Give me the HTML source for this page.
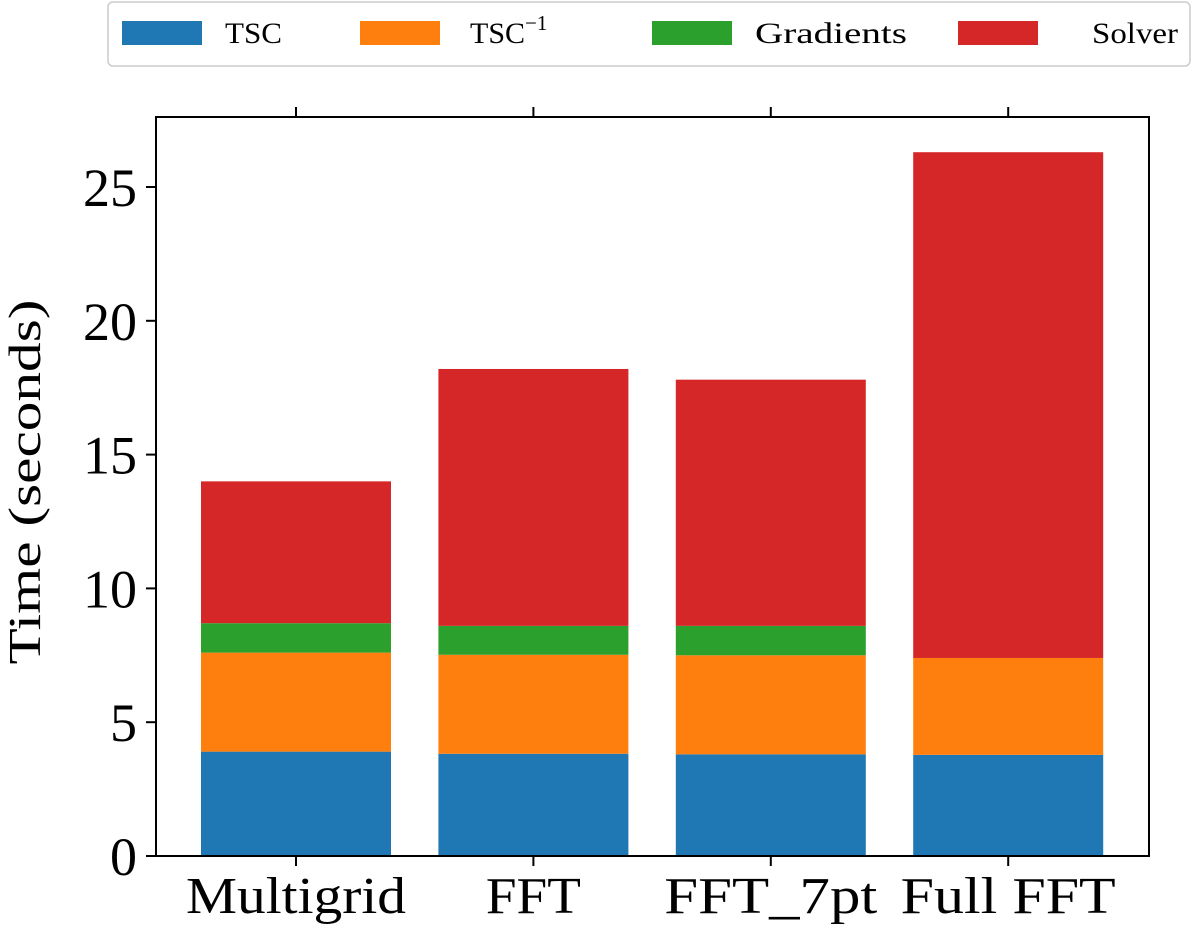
<!DOCTYPE html>
<html><head><meta charset="utf-8"><style>
body{margin:0;background:#fff;}
svg text{font-family:"Liberation Serif",serif;fill:#000;}
</style></head><body>
<svg id="chart" width="1200" height="929" xmlns="http://www.w3.org/2000/svg">
<g id="bars"></g>
<rect x="156" y="117" width="993" height="739" fill="none" stroke="#000" stroke-width="2"/>
<g id="axes"></g>
<text transform="translate(40,482) rotate(-90)" text-anchor="middle" font-size="46" textLength="365" lengthAdjust="spacingAndGlyphs">Time (seconds)</text>
<g>
<rect x="108" y="2" width="1082" height="64" rx="5" fill="#fff" stroke="#ccc" stroke-width="1.5"/>
<g><rect x="122" y="21" width="80" height="24" fill="#1f77b4"/><text x="225" y="43" font-size="30" textLength="57" lengthAdjust="spacingAndGlyphs">TSC</text></g>
<g><rect x="360" y="21" width="80" height="24" fill="#ff7f0e"/><text x="470" y="43" font-size="30">TSC<tspan dy="-13" font-size="21">−1</tspan></text></g>
<g><rect x="652" y="21" width="80" height="24" fill="#2ca02c"/><text x="755" y="43" font-size="30" textLength="152" lengthAdjust="spacingAndGlyphs">Gradients</text></g>
<g><rect x="958" y="21" width="80" height="24" fill="#d62728"/><text x="1092" y="43" font-size="30" textLength="86" lengthAdjust="spacingAndGlyphs">Solver</text></g>
</g>
</svg>
<script>
const categories=["Multigrid","FFT","FFT_7pt","Full FFT"];
const labelWidths=[220,95,213,215];
const tsc=[3.9,3.82,3.8,3.78];
const tscInv=[3.7,3.7,3.7,3.62];
const gradients=[1.1,1.08,1.1,0];
const solver=[5.3,9.6,9.2,18.9];
const yTicks=[0,5,10,15,20,25];
const seriesList=[["tsc",tsc,"#1f77b4"],["tsc-inverse",tscInv,"#ff7f0e"],["gradients",gradients,"#2ca02c"],["solver",solver,"#d62728"]];
const NS="http://www.w3.org/2000/svg";
const y=v=>856-v*26.76;
const xc=i=>296+i*237.4;
const bw=190;
const bars=document.getElementById('bars');
const axes=document.getElementById('axes');
categories.forEach((c,i)=>{
  let base=0;
  seriesList.forEach(([n,arr,col])=>{
    const v=arr[i];
    if(v>0){
      const r=document.createElementNS(NS,'rect');
      r.setAttribute('x',xc(i)-bw/2);r.setAttribute('width',bw);
      r.setAttribute('y',y(base+v));r.setAttribute('height',y(base)-y(base+v));
      r.setAttribute('fill',col);
      
      
      bars.appendChild(r);
    }
    base+=v;
  });
  [[856,866],[117,107]].forEach(([a,b])=>{
    const l=document.createElementNS(NS,'line');
    l.setAttribute('x1',xc(i));l.setAttribute('x2',xc(i));l.setAttribute('y1',a);l.setAttribute('y2',b);
    l.setAttribute('stroke','#000');l.setAttribute('stroke-width','2');
    
    
    axes.appendChild(l);
  });
  const t=document.createElementNS(NS,'text');
  t.setAttribute('x',xc(i));t.setAttribute('y',913);t.setAttribute('text-anchor','middle');t.setAttribute('font-size','52');
  t.setAttribute('textLength',labelWidths[i]);t.setAttribute('lengthAdjust','spacingAndGlyphs');
  t.textContent=c;
  
  
  axes.appendChild(t);
});
yTicks.forEach(v=>{
  const l=document.createElementNS(NS,'line');
  l.setAttribute('x1',146);l.setAttribute('x2',156);l.setAttribute('y1',y(v));l.setAttribute('y2',y(v));
  l.setAttribute('stroke','#000');l.setAttribute('stroke-width','2');
  
  
  axes.appendChild(l);
  const t=document.createElementNS(NS,'text');
  t.setAttribute('x',137);t.setAttribute('y',y(v)+19);t.setAttribute('text-anchor','end');t.setAttribute('font-size','54');
  t.textContent=v;
  
  
  axes.appendChild(t);
});
</script>
</body></html>
